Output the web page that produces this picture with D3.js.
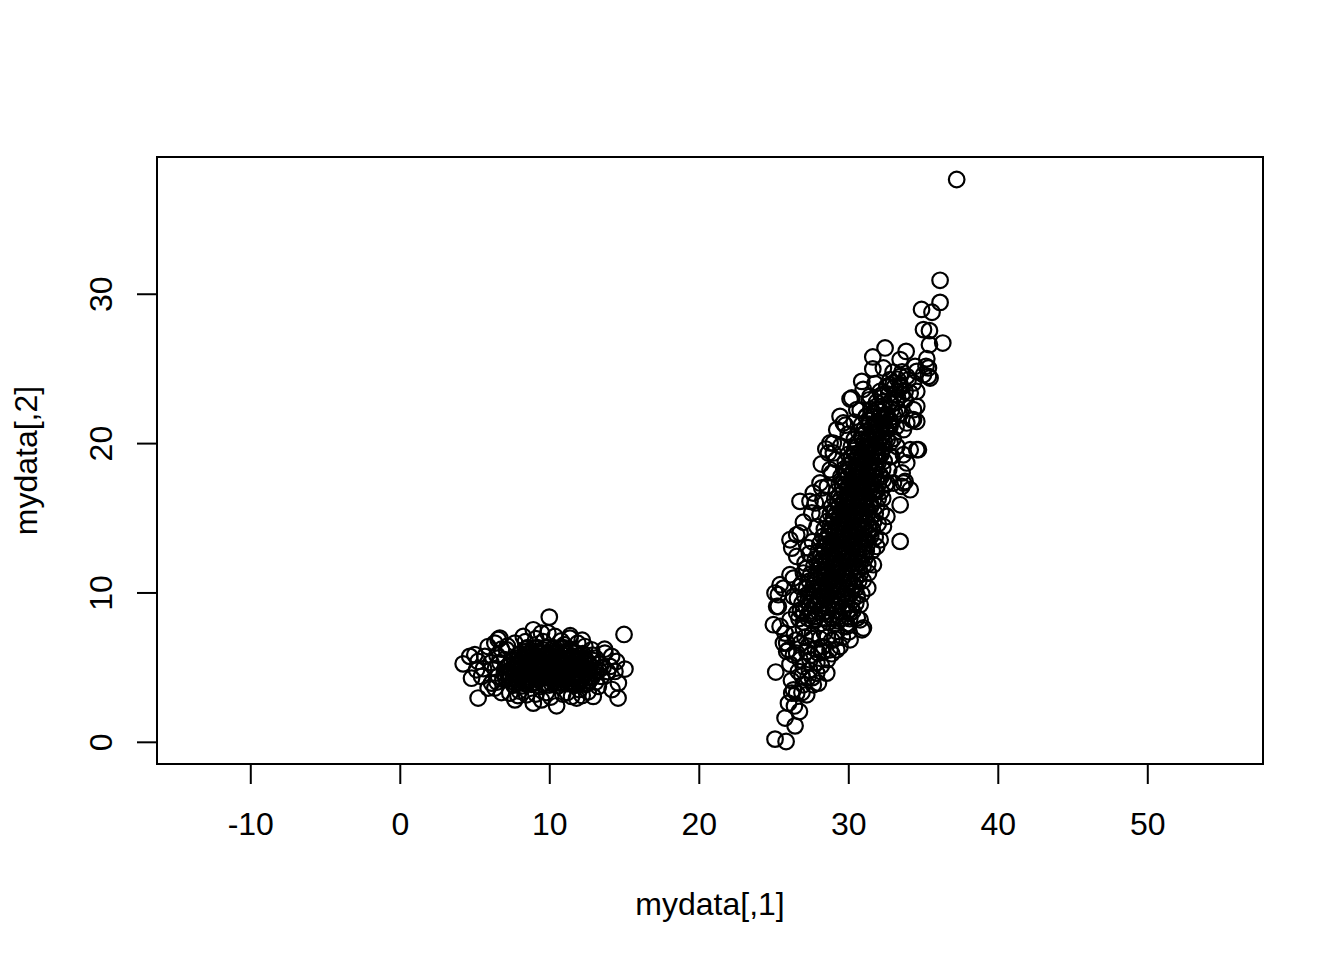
<!DOCTYPE html>
<html>
<head>
<meta charset="utf-8">
<script src="https://cdn.jsdelivr.net/npm/d3@7"></script>
<style>
  html, body { margin: 0; padding: 0; background: #ffffff; }
  svg { display: block; }
  text { font-family: "Liberation Sans", Arial, Helvetica, sans-serif; fill: #000; }
</style>
</head>
<body>
<svg id="chart" width="1344" height="960"></svg>
<script>
// ---- data ----
const xLabel = "mydata[,1]";
const yLabel = "mydata[,2]";
const xTicks = [-10, 0, 10, 20, 30, 40, 50];
const yTicks = [0, 10, 20, 30];
const xLimits = [-13.5, 55];

// group A: small cluster near (10, 5) -- outer points
const groupAOuter = [
  [10.0,8.35],[15.0,7.19],[4.24,5.22],[4.8,4.26],[5.24,2.93],[14.6,2.93],[10.49,2.41],[15.06,4.87],
  [14.62,3.93],[5.02,5.83],[5.24,5.38],[5.69,5.72],[6.69,6.94],[6.58,6.85],[8.93,7.5],[8.26,7.05],
  [9.48,7.28],[10.38,7.05],[11.38,6.94],[12.38,6.38],[12.83,6.16],[13.72,5.94],[14.17,5.72],[14.5,5.38],
  [14.06,5.05],[14.39,4.71],[13.5,4.38],[13.28,3.71],[12.94,3.04],[11.83,2.93],[11.49,3.04],[9.48,2.81],
  [8.93,2.59],[8.48,3.15],[7.7,2.81],[7.36,3.26],[6.36,3.6],[5.91,3.6],[6.14,3.93],[5.47,4.38],
  [5.13,4.82],[5.6,4.9],[4.68,5.72],[5.91,6.38],[6.36,6.61],[7.14,6.16],[7.7,6.61],[9.1,6.9],
  [10.8,6.75],[11.9,6.6],[13.1,5.6],[13.9,4.7],[12.6,3.35],[10.1,3.0],[9.1,3.2],[6.6,4.4],
  [6.1,5.3],[6.5,5.8],[13.4,5.2],[12.2,6.8],[9.9,7.3],[8.4,6.7],[10.9,3.2],[12.2,3.1],
  [6.8,3.3],[14.2,3.5],[13.7,6.2],[7.0,5.5],[7.9,3.1],[11.4,7.1],
  [6.4,4.9],[6.7,5.3],[6.9,4.2],[6.5,4.0],[13.3,4.8],[13.6,5.0],[13.1,4.0],[12.9,5.8],
  [7.2,6.4],[6.8,6.2],[9.6,6.7],[11.0,6.5],[8.0,3.4],[9.8,3.3],[11.2,3.3],[12.0,3.5]
];
// group A: dense core
const groupACore = [
  [7.6,3.8],[8.2,3.75],[8.8,3.85],[9.4,3.7],[10.0,3.8],[10.6,3.75],[11.2,3.9],[11.8,3.8],[12.4,3.85],
  [7.3,4.2],[7.9,4.25],[8.5,4.15],[9.1,4.2],[9.7,4.3],[10.3,4.2],[10.9,4.15],[11.5,4.25],[12.1,4.2],[12.7,4.1],
  [7.0,4.6],[7.6,4.55],[8.2,4.65],[8.8,4.6],[9.4,4.5],[10.0,4.6],[10.6,4.7],[11.2,4.6],[11.8,4.55],[12.4,4.65],[13.0,4.6],
  [7.2,5.0],[7.8,5.05],[8.4,4.95],[9.0,5.0],[9.6,5.1],[10.2,5.0],[10.8,4.95],[11.4,5.05],[12.0,5.0],[12.6,4.9],
  [7.5,5.4],[8.1,5.35],[8.7,5.45],[9.3,5.4],[9.9,5.3],[10.5,5.4],[11.1,5.5],[11.7,5.4],[12.3,5.35],[12.9,5.45],
  [7.9,5.8],[8.5,5.85],[9.1,5.75],[9.7,5.8],[10.3,5.9],[10.9,5.8],[11.5,5.75],[12.1,5.85],
  [8.4,6.2],[9.0,6.25],[9.6,6.15],[10.2,6.2],[10.8,6.3],[11.4,6.2],
  [7.9,4.0],[8.5,3.95],[9.1,4.0],[9.7,3.95],[10.3,4.05],[10.9,3.95],[11.5,4.0],[12.1,4.05],
  [7.3,4.4],[7.9,4.45],[8.5,4.35],[9.1,4.4],[9.7,4.45],[10.3,4.35],[10.9,4.4],[11.5,4.45],[12.1,4.4],[12.7,4.35],
  [7.5,4.8],[8.1,4.85],[8.7,4.75],[9.3,4.8],[9.9,4.85],[10.5,4.75],[11.1,4.8],[11.7,4.85],[12.3,4.8],
  [7.8,5.2],[8.4,5.25],[9.0,5.15],[9.6,5.2],[10.2,5.25],[10.8,5.15],[11.4,5.2],[12.0,5.25],[12.6,5.2],
  [8.2,5.6],[8.8,5.65],[9.4,5.55],[10.0,5.6],[10.6,5.65],[11.2,5.55],[11.8,5.6],[12.4,5.6],
  [8.7,6.0],[9.3,6.05],[9.9,5.95],[10.5,6.0],[11.1,6.05],[11.7,6.0]
];
// group A: second layer of the core
const groupACore2 = [
  [7.75,3.9],[8.35,3.9],[8.95,3.92],[9.55,3.88],[10.15,3.9],[10.75,3.93],[11.35,3.9],[11.95,3.88],[12.55,3.9],
  [7.45,4.3],[8.05,4.3],[8.65,4.32],[9.25,4.28],[9.85,4.3],[10.45,4.3],[11.05,4.33],[11.65,4.3],[12.25,4.28],[12.85,4.3],
  [7.15,4.7],[7.75,4.7],[8.35,4.72],[8.95,4.68],[9.55,4.7],[10.15,4.7],[10.75,4.72],[11.35,4.7],[11.95,4.68],[12.55,4.7],[13.15,4.7],
  [7.35,5.1],[7.95,5.1],[8.55,5.12],[9.15,5.08],[9.75,5.1],[10.35,5.1],[10.95,5.12],[11.55,5.1],[12.15,5.08],[12.75,5.1],
  [7.65,5.5],[8.25,5.5],[8.85,5.52],[9.45,5.48],[10.05,5.5],[10.65,5.5],[11.25,5.52],[11.85,5.5],[12.45,5.48],
  [8.05,5.9],[8.65,5.9],[9.25,5.92],[9.85,5.88],[10.45,5.9],[11.05,5.9],[11.65,5.92],[12.25,5.9],
  [8.55,6.3],[9.15,6.3],[9.75,6.32],[10.35,6.28],[10.95,6.3]
];

// group B: elongated cluster -- outer points
const groupBOuter = [
  [37.25,37.65],[36.14,30.9],[36.14,29.42],[34.9,28.95],[35.6,28.76],[35.03,27.6],[35.43,27.53],[36.32,26.7],
  [35.43,26.59],[32.46,26.37],[33.87,26.14],[33.47,25.59],[35.25,25.65],[34.47,25.14],[35.2,25.14],[32.35,25.03],
  [35.47,24.36],[35.03,24.58],[33.91,24.47],[34.36,24.03],[33.47,23.91],[33.02,24.03],[32.58,23.8],[33.8,23.46],
  [34.58,23.46],[32.13,23.46],[31.64,25.77],[31.64,24.96],[30.9,24.13],[31.79,23.98],[32.8,23.91],[34.58,24.8],
  [35.36,24.47],[35.36,25.03],[30.12,22.95],[31.46,23.13],[31.9,22.46],[30.57,22.24],[29.67,21.35],[29.23,20.9],
  [28.78,20.01],[29.0,19.34],[34.58,19.56],[34.36,21.57],[34.36,22.24],[34.58,22.46],[33.91,21.35],[33.69,20.9],
  [32.8,21.12],[32.58,21.79],[33.47,23.8],[33.47,24.47],[34.14,23.36],[30.23,23.02],[34.58,21.45],[34.25,21.57],
  [34.69,19.56],[33.91,18.67],[33.69,19.22],[34.14,16.88],[33.58,17.1],[33.8,17.43],[33.47,15.87],[33.47,13.42],
  [32.58,15.09],[32.35,14.42],[32.13,13.53],[31.9,13.08],[32.8,20.01],[33.25,19.78],[32.8,19.11],[32.35,17.55],
  [33.02,17.33],[29.45,21.79],[26.77,16.1],[28.11,17.33],[28.78,18.22],[28.67,19.34],[29.0,20.0],[27.56,15.32],
  [26.55,13.86],[26.1,13.53],[34.14,19.56],[33.69,17.33],[32.58,17.33],[27.44,16.1],[27.66,16.66],[28.23,17.0],
  [26.22,12.97],[26.77,13.98],[27.11,11.97],[26.33,10.96],[25.66,10.29],[25.32,9.85],[25.32,9.06],[24.99,7.84],
  [25.44,7.72],[25.77,7.28],[25.66,6.61],[26.0,6.16],[26.55,5.94],[26.1,8.17],[26.55,8.62],[26.33,9.73],
  [26.77,10.4],[27.0,11.3],[26.55,12.41],[25.15,4.67],[25.1,0.18],[25.84,0.02],[25.77,1.59],[26.44,1.07],
  [26.73,2.03],[26.0,2.59],[26.22,3.26],[26.55,3.26],[27.22,3.15],[26.33,3.48],[26.99,3.82],[27.66,3.82],
  [28.0,3.93],[28.56,4.6],[27.89,4.6],[26.66,4.71],[26.99,5.04],[27.44,5.49],[26.77,5.49],[26.33,5.83],
  [25.88,6.05],[27.22,6.05],[28.0,5.94],[28.78,6.16],[28.33,6.38],[29.45,6.38],[30.12,6.83],[25.88,6.61],
  [30.05,7.37],[30.92,7.5],[30.79,9.18],[26.1,11.19],[25.44,10.52],[25.1,9.96],[25.21,9.06],[31.01,7.62],
  [31.35,11.3],[31.68,11.86],[30.79,8.17],[29.9,7.72],[29.23,6.16],[28.9,6.8],[27.6,6.9],[28.4,7.3],
  [27.0,7.6],[29.2,7.4],[31.3,10.3],[31.1,12.6],[27.3,4.3],[26.4,2.4],[27.9,5.3],[28.6,5.5]
];
// group B: mid layer around the core
const groupBMid = [
  [26.4,7.2],[26.8,8.8],[26.6,9.6],[26.9,10.6],[27.2,11.6],[27.4,12.6],[27.6,13.4],[27.9,14.4],[28.1,15.2],
  [28.3,16.2],[28.6,17.1],[28.9,18.0],[29.2,18.9],[29.5,19.8],[30.0,20.6],[30.4,21.4],[30.8,22.2],
  [30.6,8.3],[30.9,9.9],[31.0,10.8],[31.3,11.9],[31.6,12.8],[31.8,13.7],[32.0,14.6],[32.2,15.4],
  [32.3,16.3],[32.5,17.2],[32.7,18.2],[32.9,19.1],[33.0,20.3],[33.2,21.1],[33.5,22.0],[33.8,22.9],
  [31.4,22.9],[32.2,23.2],[32.9,22.6],[31.0,23.6],[33.3,23.0],[27.3,13.0],[27.0,14.7],[27.8,16.0],
  [31.6,14.2],[31.9,16.8],[32.4,18.8],[31.2,21.8],[28.2,18.6],[28.5,19.6],[29.8,21.2],[33.6,18.0],
  [26.8,6.6],[27.3,6.4],[27.8,6.2],[28.3,6.0],[27.1,7.0],[27.6,7.2],[28.1,6.9],[28.6,7.0],[29.1,6.9],
  [29.6,7.0],[26.5,6.8],[27.5,5.8],[28.2,5.1],[26.9,4.4],[27.4,4.8],[26.1,5.2],[28.9,5.9],[26.9,3.3],
  [27.6,4.3],[26.2,4.1]
];
// group B: dense core
const groupBCore = [
  [27.0,8.0],[27.6,8.1],[28.1,7.9],[28.7,8.0],[29.3,8.1],[29.9,7.9],
  [27.3,8.5],[27.8,8.4],[28.3,8.6],[28.9,8.5],[29.4,8.4],[30.1,8.6],
  [27.2,9.0],[27.7,9.1],[28.2,8.9],[28.6,9.0],[29.1,9.1],[29.6,9.0],[30.2,8.9],
  [27.5,9.5],[27.9,9.4],[28.4,9.6],[28.8,9.5],[29.3,9.4],[29.8,9.6],[30.3,9.5],
  [27.4,10.0],[27.9,10.1],[28.3,9.9],[28.8,10.0],[29.2,10.1],[29.7,9.9],[30.2,10.0],
  [27.7,10.5],[28.1,10.4],[28.6,10.6],[29.0,10.5],[29.5,10.4],[29.9,10.6],[30.4,10.5],
  [27.8,11.0],[28.2,11.1],[28.7,10.9],[29.1,11.0],[29.6,11.1],[30.0,10.9],[30.5,11.0],
  [28.0,11.5],[28.4,11.4],[28.9,11.6],[29.3,11.5],[29.8,11.4],[30.2,11.6],[30.7,11.5],
  [28.1,12.0],[28.5,12.1],[29.0,11.9],[29.4,12.0],[29.9,12.1],[30.3,11.9],[30.8,12.0],
  [28.2,12.5],[28.7,12.4],[29.1,12.6],[29.6,12.5],[30.0,12.4],[30.5,12.6],[30.9,12.5],
  [28.4,13.0],[28.8,13.1],[29.3,12.9],[29.7,13.0],[30.2,13.1],[30.6,12.9],[31.0,13.0],
  [28.5,13.5],[29.0,13.4],[29.4,13.6],[29.9,13.5],[30.3,13.4],[30.7,13.6],[31.2,13.5],
  [28.7,14.0],[29.1,14.1],[29.6,13.9],[30.0,14.0],[30.5,14.1],[30.9,13.9],[31.3,14.0],
  [28.8,14.5],[29.3,14.4],[29.7,14.6],[30.2,14.5],[30.6,14.4],[31.0,14.6],[31.4,14.5],
  [29.0,15.0],[29.4,15.1],[29.9,14.9],[30.3,15.0],[30.7,15.1],[31.1,14.9],[31.5,15.0],
  [29.1,15.5],[29.6,15.4],[30.0,15.6],[30.5,15.5],[30.9,15.4],[31.3,15.6],
  [29.3,16.0],[29.7,16.1],[30.2,15.9],[30.6,16.0],[31.0,16.1],[31.5,15.9],
  [29.4,16.5],[29.9,16.4],[30.3,16.6],[30.8,16.5],[31.2,16.4],[31.6,16.6],
  [29.6,17.0],[30.0,17.1],[30.5,16.9],[30.9,17.0],[31.3,17.1],[31.8,16.9],
  [29.7,17.5],[30.2,17.4],[30.6,17.6],[31.1,17.5],[31.5,17.4],[31.9,17.6],
  [29.9,18.0],[30.3,18.1],[30.8,17.9],[31.2,18.0],[31.6,18.1],[32.1,17.9],
  [30.0,18.5],[30.5,18.4],[30.9,18.6],[31.4,18.5],[31.8,18.4],
  [30.2,19.0],[30.6,19.1],[31.1,18.9],[31.5,19.0],[32.0,19.1],
  [30.4,19.5],[30.8,19.4],[31.3,19.6],[31.7,19.5],[32.2,19.4],
  [30.6,20.0],[31.1,20.1],[31.5,19.9],[32.0,20.0],[32.4,20.1],
  [30.9,20.5],[31.4,20.4],[31.8,20.6],[32.3,20.5],
  [31.1,21.0],[31.6,21.1],[32.1,20.9],[32.5,21.0],
  [31.4,21.5],[31.9,21.4],[32.3,21.6],[32.8,21.5],
  [31.7,22.0],[32.2,22.1],[32.6,21.9],[33.1,22.0]
];
// group B: second layer of the core
const groupBCore2 = [
  [26.7,8.25],[27.3,8.27],[27.8,8.23],[28.4,8.25],[28.9,8.28],[29.5,8.22],[30.1,8.25],
  [27.0,8.75],[27.5,8.77],[28.0,8.73],[28.5,8.75],[29.1,8.78],[29.6,8.72],[30.3,8.75],
  [26.9,9.25],[27.4,9.27],[27.9,9.23],[28.4,9.25],[28.9,9.28],[29.4,9.22],[29.9,9.25],[30.5,9.27],
  [27.1,9.75],[27.7,9.77],[28.1,9.73],[28.6,9.75],[29.0,9.78],[29.5,9.72],[30.0,9.75],[30.6,9.77],
  [27.2,10.25],[27.6,10.27],[28.1,10.23],[28.5,10.25],[29.0,10.28],[29.4,10.22],[29.9,10.25],[30.5,10.27],
  [27.4,10.75],[27.9,10.77],[28.4,10.73],[28.8,10.75],[29.2,10.78],[29.7,10.72],[30.1,10.75],[30.7,10.77],
  [27.5,11.25],[28.0,11.27],[28.4,11.23],[28.9,11.25],[29.3,11.28],[29.8,11.22],[30.3,11.25],[30.8,11.27],
  [27.7,11.75],[28.2,11.77],[28.6,11.73],[29.1,11.75],[29.5,11.78],[30.0,11.72],[30.5,11.75],[31.0,11.77],
  [27.8,12.25],[28.3,12.27],[28.8,12.23],[29.2,12.25],[29.7,12.28],[30.1,12.22],[30.6,12.25],[31.1,12.27],
  [28.0,12.75],[28.4,12.77],[28.9,12.73],[29.4,12.75],[29.8,12.78],[30.3,12.72],[30.7,12.75],[31.2,12.77],
  [28.1,13.25],[28.6,13.27],[29.0,13.23],[29.5,13.25],[30.0,13.28],[30.4,13.22],[30.8,13.25],[31.3,13.27],
  [28.3,13.75],[28.7,13.77],[29.2,13.73],[29.7,13.75],[30.1,13.78],[30.5,13.72],[31.0,13.75],[31.5,13.77],
  [28.4,14.25],[28.9,14.27],[29.4,14.23],[29.8,14.25],[30.3,14.28],[30.7,14.22],[31.1,14.25],[31.6,14.27],
  [28.6,14.75],[29.0,14.77],[29.5,14.73],[30.0,14.75],[30.4,14.78],[30.8,14.72],[31.2,14.75],[31.7,14.77],
  [28.8,15.25],[29.2,15.27],[29.7,15.23],[30.1,15.25],[30.5,15.28],[30.9,15.22],[31.3,15.25],[31.8,15.27],
  [28.9,15.75],[29.4,15.77],[29.8,15.73],[30.3,15.75],[30.7,15.78],[31.1,15.72],[31.5,15.75],[31.9,15.77],
  [29.1,16.25],[29.5,16.27],[30.0,16.23],[30.4,16.25],[30.8,16.28],[31.2,16.22],[31.7,16.25],[32.0,16.27],
  [29.2,16.75],[29.7,16.77],[30.1,16.73],[30.6,16.75],[31.0,16.78],[31.4,16.72],[31.8,16.75],[32.2,16.77],
  [29.4,17.25],[29.8,17.27],[30.3,17.23],[30.7,17.25],[31.1,17.28],[31.6,17.22],[32.0,17.25],
  [29.5,17.75],[30.0,17.77],[30.4,17.73],[30.9,17.75],[31.3,17.78],[31.7,17.72],[32.2,17.75],
  [29.7,18.25],[30.1,18.27],[30.6,18.23],[31.0,18.25],[31.4,18.28],[31.9,18.22],[32.3,18.25],
  [29.8,18.75],[30.3,18.77],[30.7,18.73],[31.2,18.75],[31.6,18.78],[32.0,18.72],
  [30.0,19.25],[30.4,19.27],[30.9,19.23],[31.3,19.25],[31.8,19.28],[32.2,19.22],
  [30.2,19.75],[30.6,19.77],[31.1,19.73],[31.5,19.75],[31.9,19.78],[32.4,19.72],
  [30.4,20.25],[30.9,20.27],[31.3,20.23],[31.8,20.25],[32.2,20.28],[32.6,20.22],
  [30.7,20.75],[31.2,20.77],[31.6,20.73],[32.1,20.75],[32.5,20.78],
  [30.9,21.25],[31.4,21.27],[31.8,21.23],[32.3,21.25],[32.7,21.28],
  [31.2,21.75],[31.7,21.77],[32.1,21.73],[32.5,21.75],[33.0,21.78],
  [31.5,22.25],[32.0,22.27],[32.4,22.23],[32.9,22.25],[33.3,22.28],
  [31.9,22.75],[32.4,22.77],[32.8,22.73],[33.2,22.75],
  [32.3,23.25],[32.7,23.27],[33.1,23.23],[33.6,23.25],
  [32.6,23.75],[33.1,23.77],[33.5,23.73],
  [32.8,24.25],[33.3,24.27],[34.0,24.23],
  [33.0,24.75],[33.6,24.77]
];

// ---- drawing ----
const W = 1344, H = 960;
const plot = { left: 157, top: 157, right: 1263, bottom: 764 };

const allPts = groupAOuter.concat(groupACore, groupACore2, groupBOuter, groupBMid, groupBCore, groupBCore2);

// R-style 4% axis expansion
function expand(lim) { const d = (lim[1] - lim[0]) * 0.04; return [lim[0] - d, lim[1] + d]; }
const yExt = d3.extent(allPts, d => d[1]);

const x = d3.scaleLinear().domain(expand(xLimits)).range([plot.left, plot.right]);
const y = d3.scaleLinear().domain(expand(yExt)).range([plot.bottom, plot.top]);

const svg = d3.select("#chart");
svg.append("rect").attr("width", W).attr("height", H).attr("fill", "#fff");

// points
svg.append("g")
  .selectAll("circle")
  .data(allPts)
  .join("circle")
  .attr("cx", d => x(d[0]))
  .attr("cy", d => y(d[1]))
  .attr("r", 7.8)
  .attr("fill", "none")
  .attr("stroke", "#000")
  .attr("stroke-width", 2.2);

// box
svg.append("rect")
  .attr("x", plot.left).attr("y", plot.top)
  .attr("width", plot.right - plot.left).attr("height", plot.bottom - plot.top)
  .attr("fill", "none").attr("stroke", "#000").attr("stroke-width", 2);

// x axis
const xAxis = d3.axisBottom(x).tickValues(xTicks).tickSize(20).tickPadding(0).tickFormat(d3.format("d"));
const gx = svg.append("g").attr("transform", `translate(0,${plot.bottom})`).call(xAxis);
gx.select(".domain").attr("d", `M${x(xTicks[0])},0H${x(xTicks[xTicks.length - 1])}`).attr("stroke-width", 2);
gx.selectAll(".tick line").attr("stroke-width", 2);
gx.selectAll(".tick text")
  .attr("y", 71).attr("dy", null)
  .style("font-size", "32px")
  .style("font-family", "'Liberation Sans', Arial, sans-serif")
  .text(d => d < 0 ? "-" + Math.abs(d) : String(d));

// y axis
const yAxis = d3.axisLeft(y).tickValues(yTicks).tickSize(20).tickPadding(0).tickFormat(d3.format("d"));
const gy = svg.append("g").attr("transform", `translate(${plot.left},0)`).call(yAxis);
gy.select(".domain").attr("d", `M0,${y(yTicks[0])}V${y(yTicks[yTicks.length - 1])}`).attr("stroke-width", 2);
gy.selectAll(".tick line").attr("stroke-width", 2);
gy.selectAll(".tick text")
  .attr("x", null).attr("dy", null)
  .attr("text-anchor", "middle")
  .attr("transform", "translate(-45,0) rotate(-90)")
  .style("font-size", "32px")
  .style("font-family", "'Liberation Sans', Arial, sans-serif");

// axis titles
svg.append("text")
  .attr("x", (plot.left + plot.right) / 2).attr("y", 915)
  .attr("text-anchor", "middle")
  .style("font-size", "32px")
  .text(xLabel);

svg.append("text")
  .attr("transform", `translate(37,${(plot.top + plot.bottom) / 2}) rotate(-90)`)
  .attr("text-anchor", "middle")
  .style("font-size", "32px")
  .text(yLabel);
</script>
</body>
</html>
